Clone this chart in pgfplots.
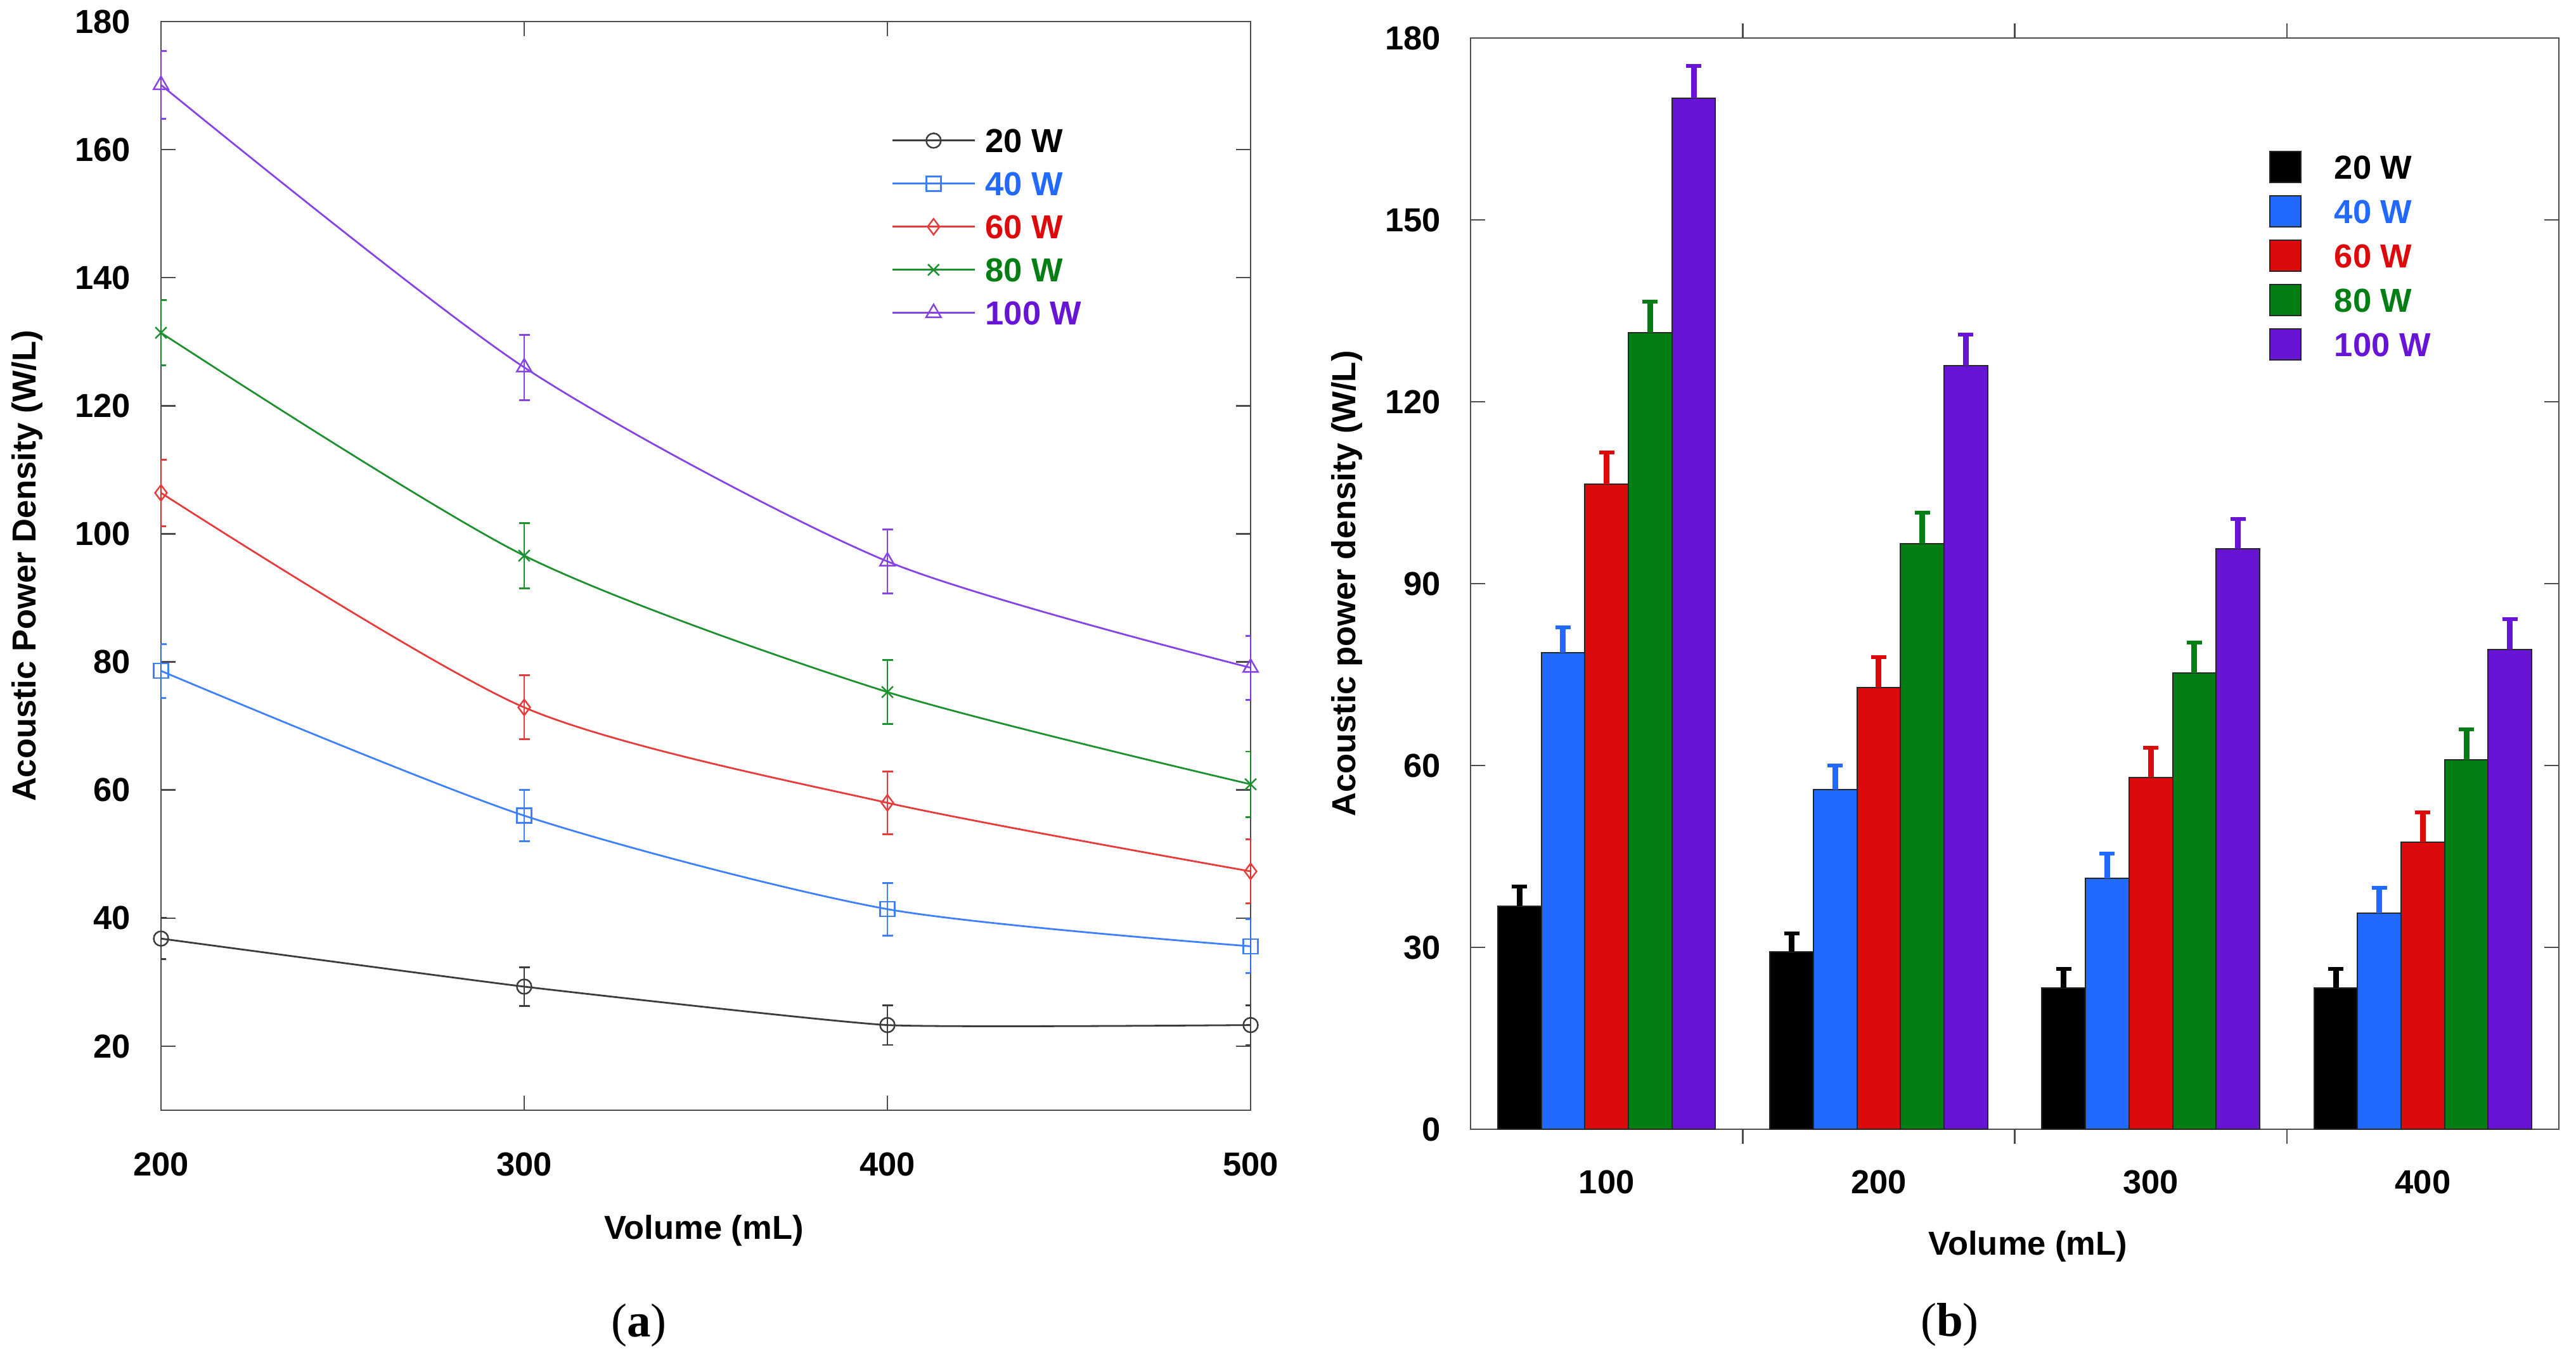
\documentclass[border=0pt]{standalone}
\usepackage{pgfplots}
\pgfplotsset{compat=1.18}
\usepackage{pgfplotstable}
\usepackage{fontspec}
\setmainfont{Liberation Sans}
\newfontfamily\seriffont{Liberation Serif}
\newcommand{\tf}{\fontsize{5.25}{6.3}\selectfont\bfseries}
\definecolor{cblk}{HTML}{000000}
\definecolor{cblu}{HTML}{226AFF}
\definecolor{cred}{HTML}{DC0A0A}
\definecolor{cgrn}{HTML}{037E14}
\definecolor{cpur}{HTML}{6714D4}
% lighter line colours of panel (a)
\definecolor{lblk}{HTML}{3C3C3C}
\definecolor{lblu}{HTML}{3F80FF}
\definecolor{lred}{HTML}{E63C3C}
\definecolor{lgrn}{HTML}{1F9030}
\definecolor{lpur}{HTML}{8644E6}

\pgfplotstableread{
xa xb v20 e20 v40 e40 v60 e60 v80 e80 v100 e100
200 0 36.8 3.2 78.6 4.2 106.4 5.2 131.4 5.1 170.1 5.3
300 1 29.3 3.0 56.0 4.0 72.9 5.0 96.6 5.1 126.0 5.1
400 2 23.3 3.1 41.4 4.1 58.0 4.9 75.3 5.0 95.7 5.0
500 3 23.3 3.1 35.6 4.2 47.3 5.0 60.9 5.1 79.1 5.0
}\data

\pgfplotsset{
  common/.style={
    scale only axis,
    anchor=south west,
    /pgf/number format/assume math mode=true,
    tick label style={font=\tf, inner sep=0pt},
    label style={font=\tf},
    axis line style={black!70, line width=0.25pt},
    every tick/.style={black!70, line width=0.25pt},
    major tick length=2.3pt,
    tick align=inside,
  },
}

\begin{document}
\begin{tikzpicture}
\useasboundingbox (0,0) rectangle (406.4pt,214.2pt);

% ---------------- (a) line chart ----------------
\begin{axis}[common,
  at={(25.4pt,39.0pt)}, width=171.9pt, height=171.8pt,
  xmin=200, xmax=500, ymin=10, ymax=180,
  xtick={200,300,400,500}, ytick={20,40,...,180},
  xticklabel style={anchor=center, yshift=-8.5pt},
  yticklabel style={anchor=east, xshift=-4.6pt},
  xlabel={Volume (mL)},
  ylabel={Acoustic Power Density (W/L)},
  xlabel style={at={(rel axis cs:0.4983,-0.1106)}, anchor=center},
  ylabel style={at={(rel axis cs:-0.1227,0.5)}, anchor=center},
  legend style={draw=none, fill=none, inner sep=0pt, outer sep=0pt,
    at={(rel axis cs:0.6707,0.9016)}, anchor=north west,
    row sep=3.04pt, column sep=1.6pt, font=\tf,
    nodes={inner sep=0pt, text height=3.76pt, text depth=0pt}},
  legend cell align=left,
  legend image code/.code={\draw[#1, mark repeat=2, mark phase=2] plot coordinates {(0pt,0pt) (6.45pt,0pt) (12.9pt,0pt)};},
  every axis plot/.append style={line width=0.28pt, smooth, tension=0.45,
     mark options={solid, line width=0.25pt, fill=none}},
  error bars/error bar style={line width=0.28pt},
  error bars/error mark options={rotate=90, line width=0.28pt, mark size=0.85pt},
]
\addplot[color=lblk, mark=o, mark size=1.15pt, tension=0.25, error bars/.cd, y dir=both, y explicit]
  table[x=xa, y=v20, y error=e20] {\data};
\addlegendentry{\textcolor{cblk}{20 W}}
\addplot[color=lblu, mark=square, mark size=1.15pt, error bars/.cd, y dir=both, y explicit]
  table[x=xa, y=v40, y error=e40] {\data};
\addlegendentry{\textcolor{cblu}{40 W}}
\addplot[color=lred, mark=diamond, mark size=1.25pt, error bars/.cd, y dir=both, y explicit]
  table[x=xa, y=v60, y error=e60] {\data};
\addlegendentry{\textcolor{cred}{60 W}}
\addplot[color=lgrn, mark=x, mark size=1.25pt, error bars/.cd, y dir=both, y explicit]
  table[x=xa, y=v80, y error=e80] {\data};
\addlegendentry{\textcolor{cgrn}{80 W}}
\addplot[color=lpur, mark=triangle, mark size=1.35pt, error bars/.cd, y dir=both, y explicit]
  table[x=xa, y=v100, y error=e100] {\data};
\addlegendentry{\textcolor{cpur}{100 W}}
\end{axis}

% ---------------- (b) bar chart ----------------
\begin{axis}[common,
  at={(232.0pt,36.0pt)}, width=171.7pt, height=172.2pt,
  xmin=-0.5, xmax=3.5, ymin=0, ymax=180,
  xtick={0.5,1.5,2.5}, xticklabels={},
  extra x ticks={0,1,2,3}, extra x tick labels={100,200,300,400},
  extra x tick style={major tick length=0pt,
     xticklabel style={anchor=center, yshift=-8.3pt}},
  ytick={0,30,...,180},
  yticklabel style={anchor=east, xshift=-4.5pt},
  xlabel={Volume (mL)},
  ylabel={Acoustic power density (W/L)},
  xlabel style={at={(rel axis cs:0.512,-0.1074)}, anchor=center},
  ylabel style={at={(rel axis cs:-0.1136,0.5)}, anchor=center},
  ybar, bar width=0.16,
  legend style={draw=none, fill=none, inner sep=0pt, outer sep=0pt,
    at={(rel axis cs:0.7338,0.8966)}, anchor=north west,
    row sep=1.9pt, column sep=5.2pt, font=\tf,
    nodes={inner sep=0pt, text height=3.76pt, text depth=0pt}},
  legend cell align=left,
  legend image code/.code={\draw[#1, line width=0.2pt] (0pt,-2.45pt) rectangle (4.9pt,2.45pt);},
  error bars/error bar style={line width=0.9pt},
  error bars/error mark options={rotate=90, line width=0.6pt, mark size=1.2pt},
]
\addplot[fill=cblk, draw=black!85, line width=0.2pt, bar shift=-0.32,
  error bars/.cd, y dir=plus, y explicit, error bar style={color=cblk}]
  table[x=xb, y=v20, y error=e20] {\data};
\addlegendentry{\textcolor{cblk}{20 W}}
\addplot[fill=cblu, draw=black!85, line width=0.2pt, bar shift=-0.16,
  error bars/.cd, y dir=plus, y explicit, error bar style={color=cblu}]
  table[x=xb, y=v40, y error=e40] {\data};
\addlegendentry{\textcolor{cblu}{40 W}}
\addplot[fill=cred, draw=black!85, line width=0.2pt, bar shift=0,
  error bars/.cd, y dir=plus, y explicit, error bar style={color=cred}]
  table[x=xb, y=v60, y error=e60] {\data};
\addlegendentry{\textcolor{cred}{60 W}}
\addplot[fill=cgrn, draw=black!85, line width=0.2pt, bar shift=0.16,
  error bars/.cd, y dir=plus, y explicit, error bar style={color=cgrn}]
  table[x=xb, y=v80, y error=e80] {\data};
\addlegendentry{\textcolor{cgrn}{80 W}}
\addplot[fill=cpur, draw=black!85, line width=0.2pt, bar shift=0.32,
  error bars/.cd, y dir=plus, y explicit, error bar style={color=cpur}]
  table[x=xb, y=v100, y error=e100] {\data};
\addlegendentry{\textcolor{cpur}{100 W}}
\end{axis}

\node[font=\seriffont\fontsize{7.5}{9}\selectfont] at (100.8pt,5.1pt) {(\textbf{a})};
\node[font=\seriffont\fontsize{7.5}{9}\selectfont] at (307.6pt,5.2pt) {(\textbf{b})};
\end{tikzpicture}
\end{document}
